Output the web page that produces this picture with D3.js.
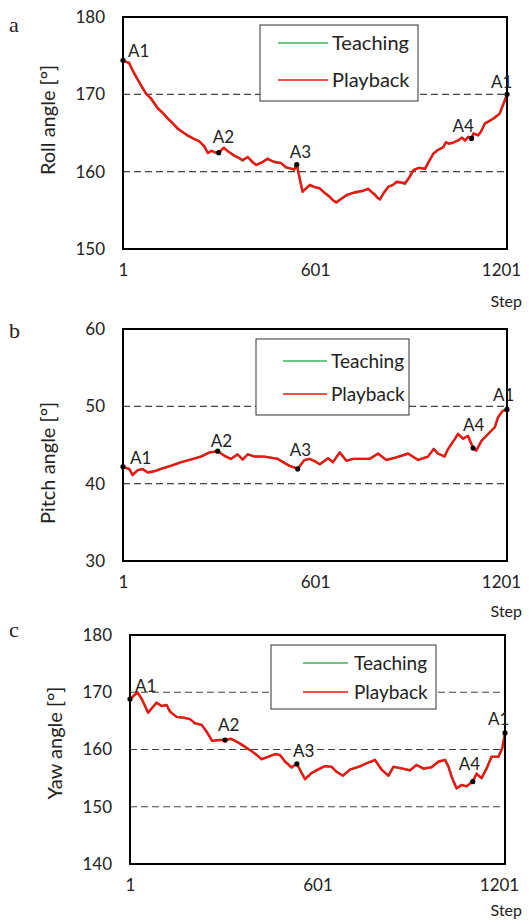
<!DOCTYPE html>
<html>
<head>
<meta charset="utf-8">
<script src="https://cdn.jsdelivr.net/npm/d3@7"></script>
<style>
  body { margin: 0; background: #fff; }
  svg { display: block; font-family: Lato, "Open Sans", sans-serif; }
</style>
</head>
<body>
<svg id="chart" width="531" height="922"></svg>
<script>
// ---- data ----
var xTicks = [1, 601, 1201];
var markerNames = ["A1", "A2", "A3", "A4", "A1"];

var rollSteps = [1, 10, 20, 30, 47, 60, 73, 90, 109, 125, 141, 155, 172, 188, 203, 220, 240, 255, 266, 278,
  290, 300, 316, 330, 349, 362, 375, 391, 405, 417, 435, 453, 465, 474, 495, 510, 526, 536, 544, 552,
  562, 575, 585, 600, 616, 630, 647, 660, 668, 680, 700, 715, 731, 750, 767, 780, 788, 797, 804, 815,
  830, 845, 856, 870, 882, 895, 908, 925, 945, 958, 971, 985, 1002, 1010, 1018, 1030, 1049, 1060, 1070, 1080,
  1090, 1096, 1111, 1120, 1132, 1152, 1165, 1178, 1190, 1201];
var rollPlayback = [174.4, 174.2, 174.1, 173.2, 171.9, 171.0, 170.1, 169.4, 168.2, 167.6, 166.9, 166.3, 165.6, 165.1, 164.7, 164.3, 163.9, 163.3, 162.4, 162.7,
  162.5, 162.45, 163.1, 162.6, 162.1, 161.8, 161.5, 161.9, 161.3, 160.85, 161.2, 161.7, 161.4, 161.3, 161.1, 160.6, 160.4, 160.3, 160.9, 159.3,
  157.4, 157.9, 158.3, 158.0, 157.85, 157.3, 156.75, 156.2, 156.0, 156.4, 157.0, 157.2, 157.4, 157.5, 157.8, 157.3, 157.0, 156.6, 156.4, 157.2,
  158.05, 158.3, 158.7, 158.6, 158.5, 159.2, 160.2, 160.5, 160.4, 161.4, 162.35, 162.8, 163.2, 163.8, 163.65, 163.7, 164.1, 164.4, 164.0, 164.5,
  164.3, 164.95, 164.7, 165.2, 166.25, 166.7, 167.1, 167.5, 168.8, 170.0];
var rollTeaching = [174.3, 174.2, 174.0, 173.1, 171.9, 170.9, 170.1, 169.3, 168.3, 167.6, 166.8, 166.3, 165.5, 165.1, 164.6, 164.3, 163.9, 163.2, 162.5, 162.7,
  162.4, 162.5, 163.0, 162.6, 162.0, 161.8, 161.4, 161.9, 161.2, 160.9, 161.2, 161.6, 161.4, 161.2, 161.1, 160.5, 160.4, 160.2, 160.9, 159.4,
  157.5, 157.9, 158.2, 158.0, 157.8, 157.3, 156.7, 156.2, 156.1, 156.4, 156.9, 157.2, 157.3, 157.5, 157.7, 157.3, 157.1, 156.6, 156.5, 157.2,
  158.0, 158.3, 158.6, 158.6, 158.4, 159.2, 160.1, 160.5, 160.3, 161.4, 162.3, 162.8, 163.1, 163.8, 163.6, 163.7, 164.0, 164.4, 164.1, 164.5,
  164.2, 164.9, 164.7, 165.2, 166.2, 166.7, 167.0, 167.5, 168.7, 170.0];
var rollTicks = [150, 160, 170, 180];
var rollGrid = [160, 170];
var rollMarkerSteps = [1, 300, 544, 1090, 1201];

var pitchSteps = [1, 12, 21, 31, 47, 62, 78, 99, 120, 151, 182, 213, 245, 271, 297, 318, 338, 359, 375, 391,
  412, 443, 484, 521, 547, 567, 583, 600, 616, 642, 657, 678, 699, 720, 772, 798, 824, 855, 892, 923,
  954, 972, 985, 1006, 1017, 1038, 1048, 1064, 1079, 1095, 1105, 1121, 1147, 1163, 1173, 1187, 1201];
var pitchPlayback = [42.2, 42.0, 41.9, 41.1, 41.75, 41.9, 41.45, 41.6, 41.9, 42.3, 42.75, 43.1, 43.5, 44.05, 44.2, 43.6, 43.2, 43.8, 43.1, 43.8,
  43.5, 43.5, 43.2, 42.3, 41.9, 43.05, 43.2, 42.9, 42.5, 43.3, 42.75, 44.05, 42.95, 43.2, 43.2, 43.9, 43.05, 43.4, 43.9, 43.05,
  43.5, 44.5, 43.9, 43.5, 44.5, 45.8, 46.45, 45.8, 46.2, 44.6, 44.25, 45.55, 46.65, 47.3, 48.6, 49.4, 49.6];
var pitchTeaching = [42.2, 42.0, 41.8, 41.2, 41.7, 41.9, 41.5, 41.6, 41.95, 42.35, 42.8, 43.15, 43.55, 44.0, 44.2, 43.65, 43.2, 43.75, 43.15, 43.8,
  43.55, 43.5, 43.25, 42.35, 41.95, 43.0, 43.2, 42.95, 42.5, 43.25, 42.8, 44.0, 43.0, 43.2, 43.25, 43.85, 43.1, 43.4, 43.85, 43.1,
  43.5, 44.45, 43.9, 43.55, 44.45, 45.75, 46.4, 45.85, 46.15, 44.65, 44.3, 45.5, 46.6, 47.3, 48.55, 49.35, 49.6];
var pitchTicks = [30, 40, 50, 60];
var pitchGrid = [40, 50];
var pitchMarkerSteps = [1, 297, 547, 1095, 1201];

var yawSteps = [1, 25, 38, 59, 86, 102, 118, 129, 150, 171, 193, 209, 230, 246, 264, 284, 305, 324, 348, 369,
  388, 406, 422, 444, 465, 481, 497, 518, 535, 548, 561, 580, 598, 625, 646, 662, 682, 705, 737, 758,
  785, 806, 828, 844, 870, 897, 918, 940, 966, 988, 1009, 1020, 1030, 1046, 1062, 1078, 1098, 1110, 1126, 1142,
  1158, 1180, 1192, 1201];
var yawPlayback = [168.8, 170.0, 168.9, 166.4, 168.2, 167.6, 167.8, 166.6, 165.7, 165.6, 165.3, 164.6, 164.3, 163.1, 161.5, 161.65, 161.65, 161.9, 161.2, 160.5,
  159.8, 159.05, 158.3, 158.75, 159.2, 159.05, 157.9, 156.9, 157.5, 156.1, 154.8, 155.8, 156.4, 157.1, 157.0, 156.1, 155.4, 156.5, 157.1, 157.6,
  158.2, 156.5, 155.4, 157.0, 156.7, 156.4, 157.3, 156.7, 156.9, 157.9, 158.2, 157.0, 155.25, 153.2, 153.8, 153.6, 154.4, 155.8, 155.0, 156.7,
  158.75, 158.75, 160.2, 162.9];
var yawTeaching = [168.8, 169.9, 168.8, 166.5, 168.1, 167.6, 167.7, 166.7, 165.7, 165.5, 165.3, 164.5, 164.3, 163.2, 161.5, 161.6, 161.7, 161.8, 161.2, 160.4,
  159.8, 159.1, 158.3, 158.7, 159.2, 159.0, 157.9, 156.8, 157.5, 156.2, 154.9, 155.8, 156.3, 157.1, 156.9, 156.1, 155.5, 156.5, 157.0, 157.6,
  158.1, 156.5, 155.5, 156.9, 156.7, 156.3, 157.3, 156.6, 156.9, 157.8, 158.2, 157.1, 155.3, 153.3, 153.8, 153.5, 154.4, 155.7, 155.0, 156.6,
  158.7, 158.7, 160.1, 162.9];
var yawTicks = [140, 150, 160, 170, 180];
var yawGrid = [150, 160, 170];
var yawMarkerSteps = [1, 305, 535, 1098, 1201];

// ---- layout per panel ----
var panels = [
  { letter: "a", letterY: 32, title: "Roll angle [°]", titleY: 120, stepY: 58,
    steps: rollSteps, teaching: rollTeaching, playback: rollPlayback,
    ticks: rollTicks, grid: rollGrid, markerSteps: rollMarkerSteps,
    box: { left: 123, right: 507, top: 17, bottom: 249 },
    legend: { x: 260, y: 25, w: 158, h: 76, y1: 43, y2: 80, lx1: 278, lx2: 328, tx: 332, fs: 20 },
    offsets: [[5, -3], [-6, -10], [-7, -7], [-19, -6], [-16, -6]] },
  { letter: "b", letterY: 338, title: "Pitch angle [°]", titleY: 463, stepY: 56,
    steps: pitchSteps, teaching: pitchTeaching, playback: pitchPlayback,
    ticks: pitchTicks, grid: pitchGrid, markerSteps: pitchMarkerSteps,
    box: { left: 123, right: 507, top: 329, bottom: 561 },
    legend: { x: 256, y: 339, w: 153, h: 76, y1: 361, y2: 394, lx1: 283, lx2: 327, tx: 331, fs: 19 },
    offsets: [[7, -3], [-7, -4], [-8, -13], [-10, -17], [-14, -8]] },
  { letter: "c", letterY: 637, title: "Yaw angle [°]", titleY: 743, stepY: 52,
    steps: yawSteps, teaching: yawTeaching, playback: yawPlayback,
    ticks: yawTicks, grid: yawGrid, markerSteps: yawMarkerSteps,
    box: { left: 130, right: 505, top: 635, bottom: 864 },
    legend: { x: 271, y: 645, w: 165, h: 64, y1: 663, y2: 692, lx1: 303, lx2: 348, tx: 354, fs: 19 },
    offsets: [[5, -7], [-7, -9], [-4, -7], [-14, -12], [-17, -8]] }
];

var svg = d3.select("#chart");

panels.forEach(function(p) {
  var b = p.box;
  var x = d3.scaleLinear().domain([1, 1201]).range([b.left, b.right]);
  var y = d3.scaleLinear().domain([p.ticks[0], p.ticks[p.ticks.length - 1]]).range([b.bottom, b.top]);
  var g = svg.append("g");

  // dashed gridlines
  g.selectAll(".grid").data(p.grid).enter().append("line")
    .attr("x1", b.left).attr("x2", b.right)
    .attr("y1", function(d) { return y(d); }).attr("y2", function(d) { return y(d); })
    .attr("stroke", "#444").attr("stroke-width", 1.1).attr("stroke-dasharray", "7,4");

  // axes (labels only)
  var ya = g.append("g").attr("transform", "translate(" + b.left + ",0)")
    .call(d3.axisLeft(y).tickValues(p.ticks).tickSize(0).tickPadding(18));
  var xa = g.append("g").attr("transform", "translate(0," + b.bottom + ")")
    .call(d3.axisBottom(x).tickValues(xTicks).tickFormat(d3.format("d")).tickSize(0).tickPadding(15));
  [ya, xa].forEach(function(a) {
    a.select(".domain").remove();
    a.selectAll("text").attr("font-family", "Lato, sans-serif").attr("font-size", 17).attr("fill", "#222");
  });
  xa.selectAll("text").filter(function(d) { return d === 1201; }).attr("dx", -6);

  // series
  var pts = function(vals) { return vals.map(function(v, i) { return [p.steps[i], v]; }); };
  var line = d3.line().x(function(d) { return x(d[0]); }).y(function(d) { return y(d[1]); });
  g.append("path").attr("d", line(pts(p.teaching)))
    .attr("fill", "none").attr("stroke", "#3cb05c").attr("stroke-width", 2.2);
  g.append("path").attr("d", line(pts(p.playback)))
    .attr("fill", "none").attr("stroke", "#f01414").attr("stroke-width", 2.4)
    .attr("stroke-linejoin", "round");

  // frame
  g.append("rect").attr("x", b.left).attr("y", b.top)
    .attr("width", b.right - b.left).attr("height", b.bottom - b.top)
    .attr("fill", "none").attr("stroke", "#000").attr("stroke-width", 2);

  // key points
  p.markerSteps.forEach(function(s, i) {
    var v = p.playback[p.steps.indexOf(s)];
    var cx = x(s), cy = y(v);
    g.append("circle").attr("cx", cx).attr("cy", cy).attr("r", 2.6).attr("fill", "#000");
    g.append("text").attr("x", cx + p.offsets[i][0]).attr("y", cy + p.offsets[i][1])
      .attr("font-size", 17).attr("fill", "#222").text(markerNames[i]);
  });

  // legend
  var L = p.legend;
  g.append("rect").attr("x", L.x).attr("y", L.y).attr("width", L.w).attr("height", L.h)
    .attr("fill", "#fff").attr("stroke", "#333").attr("stroke-width", 1);
  [["Teaching", "#3cb05c", L.y1], ["Playback", "#f01414", L.y2]].forEach(function(e) {
    g.append("line").attr("x1", L.lx1).attr("x2", L.lx2).attr("y1", e[2]).attr("y2", e[2])
      .attr("stroke", e[1]).attr("stroke-width", 1.6);
    g.append("text").attr("x", L.tx).attr("y", e[2]).attr("dy", "0.35em")
      .attr("font-size", L.fs).attr("fill", "#222").text(e[0]);
  });

  // titles
  g.append("text").attr("transform", "translate(" + (b.left - 68) + "," + p.titleY + ") rotate(-90)")
    .attr("text-anchor", "middle").attr("font-size", 20).attr("fill", "#222").text(p.title);
  g.append("text").attr("x", 522).attr("y", b.bottom + p.stepY).attr("text-anchor", "end")
    .attr("font-size", 16).attr("fill", "#222").text("Step");
  g.append("text").attr("x", 9).attr("y", p.letterY)
    .attr("font-family", "'Liberation Serif', serif").attr("font-size", 22).attr("fill", "#222").text(p.letter);
});
</script>
</body>
</html>
